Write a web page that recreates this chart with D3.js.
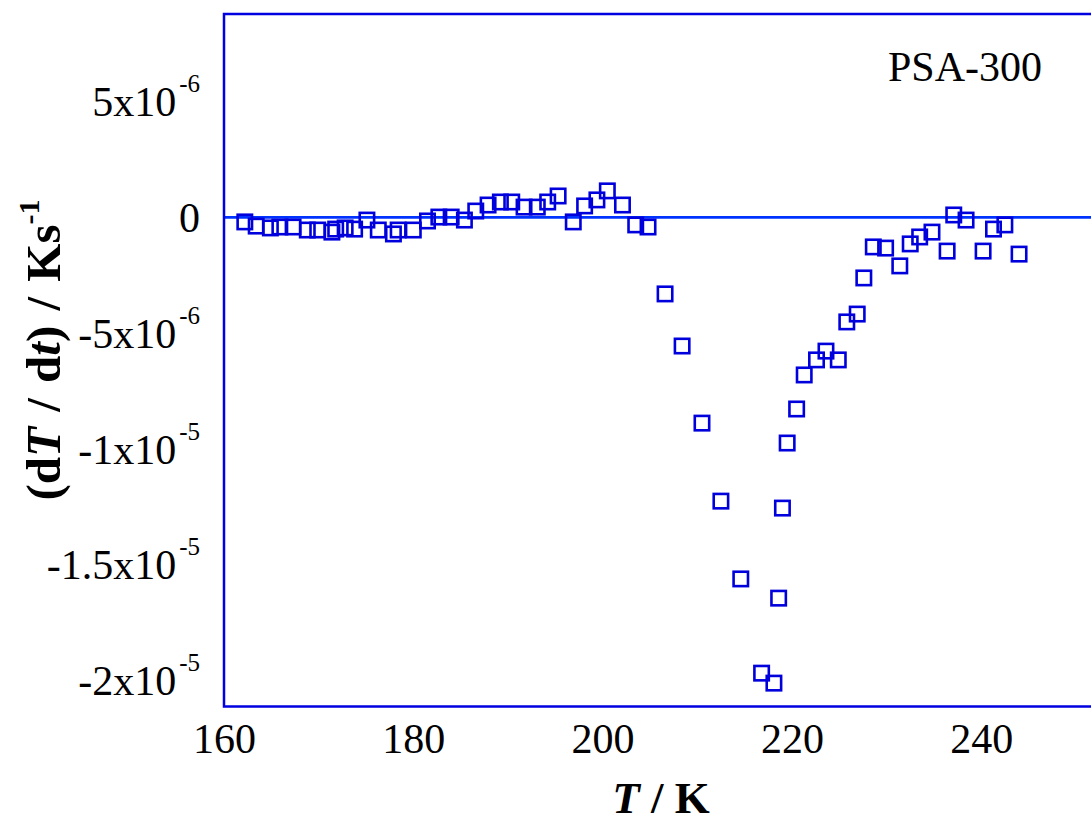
<!DOCTYPE html>
<meta charset="utf-8">
<style>
body { margin: 0; background: #fff; }
svg { display: block; }
text { font-family: "Liberation Serif", "Times New Roman", serif; fill: #000; }
.tick text { font-size: 42px; }
.axis path, .axis line { display: none; }
.frame { fill: none; stroke: #0000e0; stroke-width: 2.5px; }
.zero { stroke: #0033ff; stroke-width: 2.7px; }
.pt { fill: none; stroke: #0000dd; stroke-width: 2.6px; }
.title { font-size: 46px; font-weight: bold; }
</style>
<body>
<script src="https://cdn.jsdelivr.net/npm/d3@7"></script>
<script>

var width = 1091,
    height = 824;

// temperature (K) and cooling rate dT/dt (K/s)
var temp = [162.2, 163.4, 164.9, 165.9, 167.3, 168.8, 169.9, 171.4, 171.8, 172.8,
            173.8, 175.1, 176.3, 177.9, 178.4, 180.0, 181.5, 182.7, 184.0, 185.4,
            186.6, 187.9, 189.2, 190.4, 191.7, 193.1, 194.2, 195.3, 196.9, 198.1,
            199.4, 200.5, 202.1, 203.5, 204.8, 206.6, 208.4, 210.5, 212.5, 214.6,
            216.8, 218.1, 218.6, 219.0, 219.5, 220.5, 221.3, 222.6, 223.6, 224.9,
            225.8, 226.9, 227.6, 228.6, 229.9, 231.4, 232.5, 233.5, 234.8, 236.4,
            237.1, 238.4, 240.2, 241.3, 242.5, 244.0];

var rate = [-0.20e-6, -0.38e-6, -0.46e-6, -0.42e-6, -0.42e-6, -0.55e-6, -0.55e-6, -0.64e-6, -0.51e-6, -0.46e-6,
            -0.51e-6, -0.12e-6, -0.55e-6, -0.72e-6, -0.55e-6, -0.55e-6, -0.16e-6, 0.01e-6, 0.01e-6, -0.12e-6,
            0.27e-6, 0.53e-6, 0.66e-6, 0.66e-6, 0.44e-6, 0.44e-6, 0.66e-6, 0.92e-6, -0.20e-6, 0.49e-6,
            0.75e-6, 1.14e-6, 0.53e-6, -0.33e-6, -0.42e-6, -3.31e-6, -5.56e-6, -8.89e-6, -12.26e-6, -15.62e-6,
            -19.69e-6, -20.12e-6, -16.45e-6, -12.56e-6, -9.75e-6, -8.28e-6, -6.81e-6, -6.16e-6, -5.78e-6, -6.16e-6,
            -4.52e-6, -4.18e-6, -2.62e-6, -1.28e-6, -1.33e-6, -2.10e-6, -1.15e-6, -0.85e-6, -0.64e-6, -1.46e-6,
            0.10e-6, -0.12e-6, -1.46e-6, -0.51e-6, -0.33e-6, -1.59e-6];

var xTicks = [160, 180, 200, 220, 240];
var yTicks = [5e-6, 0, -5e-6, -1e-5, -1.5e-5, -2e-5];
var yMant = ["5x10", "0", "-5x10", "-1x10", "-1.5x10", "-2x10"];
var yExp = ["-6", "", "-6", "-5", "-5", "-5"];

var plotLeft = 224, plotTop = 14, plotBottom = 706.5;

var x = d3.scaleLinear()
    .domain([160, 260])
    .range([plotLeft, plotLeft + 946.5]);

var y = d3.scaleLinear()
    .domain([-2.113e-5, 8.78e-6])
    .range([plotBottom, plotTop]);

var svg = d3.select("body").append("svg")
    .attr("width", width)
    .attr("height", height);

// x axis labels
svg.append("g")
    .attr("class", "axis")
    .attr("transform", "translate(0," + plotBottom + ")")
    .call(d3.axisBottom(x).tickValues(xTicks).tickSize(0).tickPadding(46))
    .call(function(g) { g.selectAll("text").attr("dy", 0); });

// y axis labels with superscript exponents
var yAxis = svg.append("g")
    .attr("class", "axis")
    .attr("transform", "translate(" + plotLeft + ",0)")
    .call(d3.axisLeft(y).tickValues(yTicks).tickSize(0).tickPadding(24)
      .tickFormat(function(d, i) { return yMant[i]; }));

yAxis.selectAll(".tick text")
    .attr("dy", "0.34em")
    .each(function(d, i) {
      if (!yExp[i]) return;
      d3.select(this).append("tspan")
          .attr("dx", 3)
          .attr("dy", -24)
          .style("font-size", "25px")
          .text(yExp[i]);
    });

// zero line
svg.append("line")
    .attr("class", "zero")
    .attr("x1", plotLeft).attr("x2", width)
    .attr("y1", y(0)).attr("y2", y(0));

// frame (right side runs off the page)
svg.append("rect")
    .attr("class", "frame")
    .attr("x", plotLeft)
    .attr("y", plotTop)
    .attr("width", x.range()[1] - plotLeft)
    .attr("height", plotBottom - plotTop);

// points
svg.append("g")
  .selectAll("rect")
  .data(temp)
  .enter().append("rect")
    .attr("class", "pt")
    .attr("x", function(d) { return x(d) - 7.2; })
    .attr("y", function(d, i) { return y(rate[i]) - 7.2; })
    .attr("width", 14.4)
    .attr("height", 14.4);

svg.append("text")
    .attr("x", 888)
    .attr("y", 81)
    .style("font-size", "42px")
    .text("PSA-300");

// axis titles
var xt = svg.append("text")
    .attr("class", "title")
    .attr("x", 661)
    .attr("y", 813)
    .style("font-size", "45px")
    .attr("text-anchor", "middle");
xt.append("tspan").style("font-style", "italic").text("T");
xt.append("tspan").text(" / K");

var yt = svg.append("text")
    .attr("class", "title")
    .attr("transform", "translate(60,350) rotate(-90)")
    .style("font-size", "49px")
    .style("word-spacing", "3px")
    .attr("text-anchor", "middle");
yt.append("tspan").text("(d");
yt.append("tspan").style("font-style", "italic").text("T");
yt.append("tspan").text(" / d");
yt.append("tspan").style("font-style", "italic").text("t");
yt.append("tspan").text(") / Ks");
yt.append("tspan").attr("dy", -21).style("font-size", "30px").text("-1");

</script>
